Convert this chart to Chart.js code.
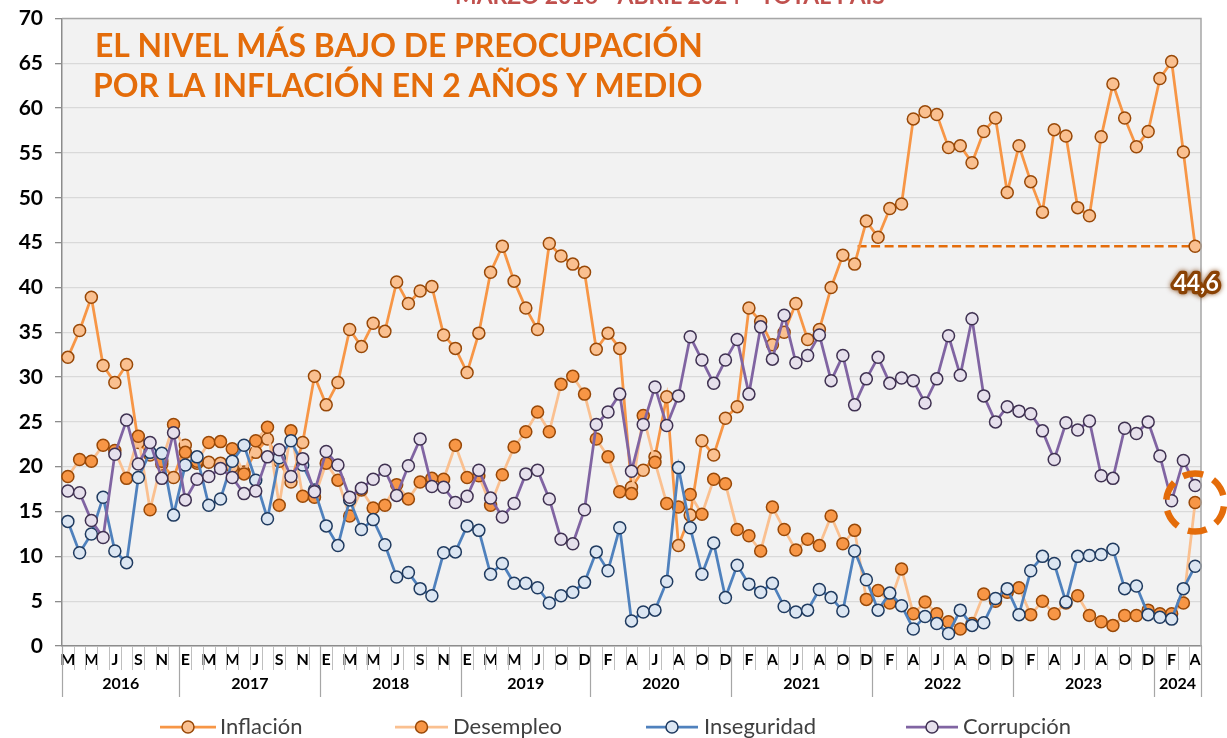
<!DOCTYPE html>
<html><head><meta charset="utf-8">
<script src="https://cdn.jsdelivr.net/npm/chart.js@4.4.1/dist/chart.umd.min.js"></script>
<style>html,body{margin:0;padding:0;background:#fff;overflow:hidden}#wrap{width:1227px;height:738px;position:relative}</style>
</head><body><div id="wrap"><canvas id="c" width="1227" height="738"></canvas></div>
<script>
// ---- DATA ----
const yearLabels = ['2016','2017','2018','2019','2020','2021','2022','2023','2024'];
const monthsByYear = [
  [3,4,5,6,7,8,9,10,11,12],
  [1,2,3,4,5,6,7,8,9,10,11,12],
  [1,2,3,4,5,6,7,8,9,10,11,12],
  [1,2,3,4,5,6,7,8,10,11,12],
  [1,2,3,4,5,6,7,8,9,10,11,12],
  [1,2,3,4,5,6,7,8,9,10,11,12],
  [1,2,3,4,5,6,7,8,9,10,11,12],
  [1,2,3,4,5,6,7,8,9,10,11,12],
  [1,2,3,4]
];
const monthInitials = ['E','F','M','A','M','J','J','A','S','O','N','D'];

const inflacion = [32.2,35.2,38.9,31.3,29.4,31.4,22.7,21.3,20.3,18.8,
  22.4,20.4,20.5,20.4,20.0,19.4,21.6,23.1,20.6,18.3,22.7,30.1,
  26.9,29.4,35.3,33.4,36.0,35.1,40.6,38.2,39.6,40.1,34.7,33.2,
  30.5,34.9,41.7,44.6,40.7,37.7,35.3,44.9,43.5,42.6,41.7,
  33.1,34.9,33.2,17.7,19.6,21.1,27.8,11.2,14.6,22.9,21.3,25.4,
  26.7,37.7,36.2,33.6,35.0,38.2,34.2,35.3,40.0,43.6,42.6,47.4,
  45.6,48.8,49.3,58.8,59.6,59.3,55.6,55.8,53.9,57.4,58.9,50.6,
  55.8,51.8,48.4,57.6,56.9,48.9,48.0,56.8,62.7,58.9,55.7,57.4,
  63.3,65.2,55.1,44.6];
const desempleo = [18.9,20.8,20.6,22.4,21.8,18.7,23.4,15.2,20.6,24.7,
  21.6,20.6,22.7,22.8,22.0,19.2,22.9,24.4,15.7,24.0,16.7,16.6,
  20.4,18.5,14.5,17.4,15.4,15.7,18.0,16.4,18.3,18.7,18.6,22.4,
  18.8,19.0,15.7,19.1,22.2,23.9,26.1,23.9,29.2,30.1,28.1,
  23.1,21.1,17.2,17.0,25.7,20.5,15.9,15.5,16.9,14.7,18.6,18.1,
  13.0,12.3,10.6,15.5,13.0,10.7,11.9,11.2,14.5,11.4,12.9,5.2,
  6.2,4.8,8.6,3.6,4.9,3.6,2.7,1.9,2.5,5.8,5.0,6.0,
  6.5,3.5,5.0,3.6,4.8,5.6,3.4,2.7,2.3,3.4,3.4,4.0,
  3.6,3.6,4.8,16.0];
const inseguridad = [13.9,10.4,12.5,16.6,10.6,9.3,18.8,21.6,21.5,14.6,
  20.2,21.1,15.7,16.4,20.6,22.4,18.5,14.2,21.0,22.9,20.2,17.4,
  13.4,11.2,16.3,13.0,14.1,11.3,7.7,8.2,6.4,5.6,10.4,10.5,
  13.4,12.9,8.0,9.2,7.0,7.0,6.5,4.8,5.6,6.0,7.1,
  10.5,8.4,13.2,2.8,3.8,4.0,7.2,19.9,13.2,8.0,11.5,5.4,
  9.0,6.9,6.0,7.0,4.4,3.8,4.0,6.3,5.4,3.9,10.6,7.4,
  4.0,5.9,4.5,1.9,3.3,2.5,1.4,4.0,2.3,2.6,5.3,6.4,
  3.5,8.4,10.0,9.2,4.9,10.0,10.1,10.2,10.8,6.4,6.7,3.5,
  3.2,3.0,6.4,8.9];
const corrupcion = [17.3,17.1,14.0,12.1,21.4,25.2,20.3,22.7,18.7,23.8,
  16.3,18.6,18.9,19.8,18.8,17.0,17.3,21.1,21.9,18.9,20.9,17.2,
  21.7,20.2,16.6,17.6,18.6,19.6,16.8,20.1,23.1,17.8,17.7,16.0,
  16.7,19.6,16.5,14.4,15.9,19.2,19.6,16.4,11.9,11.4,15.2,
  24.7,26.1,28.1,19.5,24.7,28.9,24.6,27.9,34.5,31.9,29.3,31.9,
  34.2,28.1,35.6,32.0,36.9,31.6,32.4,34.7,29.6,32.4,26.9,29.8,
  32.2,29.3,29.9,29.6,27.1,29.8,34.6,30.2,36.5,27.9,25.0,26.7,
  26.2,25.9,24.0,20.8,24.9,24.1,25.1,19.0,18.7,24.3,23.7,25.0,
  21.2,16.2,20.7,17.9];
const yTicks = {min:0, max:70, step:5};
const referenceValue = 44.6;      // línea punteada
const referenceFromIndex = 67;    // noviembre 2021
const headingLines = ['EL NIVEL MÁS BAJO DE PREOCUPACIÓN','POR LA INFLACIÓN EN 2 AÑOS Y MEDIO'];
const topTitle = 'MARZO 2016 - ABRIL 2024 - TOTAL PAÍS';

// categories & tick labels
const categories = [];
const tickLabels = [];
const yearStarts = [];
monthsByYear.forEach((ms, yi) => {
  yearStarts.push(categories.length);
  ms.forEach(m => {
    const idx = categories.length;
    categories.push(yearLabels[yi] + '-' + String(m).padStart(2,'0'));
    tickLabels.push(idx % 2 === 0 ? monthInitials[m-1] : '');
  });
});
yearStarts.push(categories.length);

// ---- STYLE ----
const FONT = 'Lato, "Open Sans", sans-serif';
const series = [
  {label:'Inflación',   data:inflacion,   line:'#F79646', fill:'#FAC090', edge:'#984807', order:4},
  {label:'Desempleo',   data:desempleo,   line:'#FAC090', fill:'#F79646', edge:'#984807', order:3},
  {label:'Inseguridad', data:inseguridad, line:'#4F81BD', fill:'#DCE6F2', edge:'#1F3A5F', order:2},
  {label:'Corrupción',  data:corrupcion,  line:'#8064A2', fill:'#E6E0EC', edge:'#3F3151', order:1}
];

const bgPlugin = {
  id:'bg',
  beforeDraw(chart){
    const {ctx, chartArea:a} = chart;
    ctx.save();
    ctx.fillStyle = '#fff';
    ctx.fillRect(0,0,chart.width,chart.height);
    ctx.fillStyle = '#F2F2F2';
    ctx.fillRect(a.left, a.top, a.right-a.left, a.bottom-a.top);
    ctx.restore();
  },
  beforeDatasetsDraw(chart){
    const {ctx} = chart;
    const xs = chart.scales.x, ys = chart.scales.y;
    ctx.save();
    ctx.strokeStyle = '#E46C0A';
    ctx.lineWidth = 2.6;
    ctx.setLineDash([9,4.5]);
    const y = ys.getPixelForValue(referenceValue);
    ctx.beginPath();
    ctx.moveTo(xs.getPixelForValue(referenceFromIndex)+3, y);
    ctx.lineTo(xs.getPixelForValue(categories.length-1), y);
    ctx.stroke();
    ctx.restore();
  }
};

const decoPlugin = {
  id:'deco',
  afterDraw(chart){
    const {ctx, chartArea:a} = chart;
    const n = categories.length;
    const step = (a.right - a.left) / n;
    ctx.save();
    ctx.strokeStyle = '#A6A6A6';
    ctx.lineWidth = 1.5;
    ctx.beginPath();
    ctx.moveTo(a.left, a.top); ctx.lineTo(a.right, a.top); ctx.lineTo(a.right, a.bottom);
    ctx.stroke();
    ctx.strokeStyle = '#BFBFBF';
    ctx.lineWidth = 1;
    for (let i=0;i<=n;i++){
      const x = Math.round(a.left + i*step) + 0.5;
      ctx.beginPath(); ctx.moveTo(x, a.bottom); ctx.lineTo(x, a.bottom+24); ctx.stroke();
    }
    ctx.strokeStyle = '#A6A6A6';
    ctx.lineWidth = 1.2;
    yearStarts.forEach(s => {
      const x = Math.round(a.left + s*step) + 0.5;
      ctx.beginPath(); ctx.moveTo(x, a.bottom); ctx.lineTo(x, a.bottom+51); ctx.stroke();
    });
    ctx.fillStyle = '#000';
    ctx.font = 'bold 16px ' + FONT;
    ctx.textAlign = 'center';
    ctx.textBaseline = 'middle';
    for (let k=0;k<yearLabels.length;k++){
      const x = a.left + (yearStarts[k]+yearStarts[k+1])/2*step;
      ctx.fillText(yearLabels[k], x, a.bottom + 38);
    }
    const p = chart.getDatasetMeta(1).data[n-1];
    ctx.strokeStyle = '#E46C0A';
    ctx.lineWidth = 6.5;
    ctx.setLineDash([19,11]);
    ctx.beginPath(); ctx.arc(p.x, p.y, 29, -Math.PI*0.62, Math.PI*1.38); ctx.stroke();
    ctx.setLineDash([]);
    const q = chart.getDatasetMeta(0).data[n-1];
    ctx.font = 'bold 23px ' + FONT;
    ctx.textAlign = 'center';
    ctx.textBaseline = 'middle';
    ctx.lineJoin = 'round';
    ctx.shadowColor = 'rgba(120,55,0,0.85)';
    ctx.shadowBlur = 5;
    ctx.strokeStyle = '#8A4204';
    ctx.lineWidth = 6.5;
    const lx = q.x + 1, ly = q.y + 37;
    ctx.strokeText('44,6', lx, ly);
    ctx.shadowBlur = 0;
    ctx.fillStyle = '#fff';
    ctx.fillText('44,6', lx, ly);
    ctx.fillStyle = '#E46C0A';
    ctx.textAlign = 'left';
    ctx.textBaseline = 'alphabetic';
    ctx.font = 'bold 34px ' + FONT;
    const w1 = ctx.measureText(headingLines[0]).width;
    const fs = 34 * 608 / w1;
    ctx.font = 'bold ' + fs.toFixed(2) + 'px ' + FONT;
    ctx.fillText(headingLines[0], 95, 57);
    ctx.fillText(headingLines[1], 93, 97);
    ctx.fillStyle = '#C0504D';
    ctx.textAlign = 'center';
    ctx.font = 'bold 22px ' + FONT;
    const wt = ctx.measureText(topTitle).width;
    ctx.font = 'bold ' + (22*430/wt).toFixed(2) + 'px ' + FONT;
    ctx.fillText(topTitle, 670, 4);
    const items = [
      {s:series[0], x1:160, x2:216, tx:220},
      {s:series[1], x1:395, x2:448, tx:453},
      {s:series[2], x1:646, x2:698, tx:704},
      {s:series[3], x1:906, x2:958, tx:963}
    ];
    const ly2 = 727;
    ctx.font = '22px ' + FONT;
    ctx.textAlign = 'left';
    ctx.textBaseline = 'middle';
    items.forEach(it => {
      ctx.strokeStyle = it.s.line; ctx.lineWidth = 2.75;
      ctx.beginPath(); ctx.moveTo(it.x1, ly2); ctx.lineTo(it.x2, ly2); ctx.stroke();
      ctx.beginPath(); ctx.arc((it.x1+it.x2)/2, ly2, 6, 0, Math.PI*2);
      ctx.fillStyle = it.s.fill; ctx.fill();
      ctx.strokeStyle = it.s.edge; ctx.lineWidth = 1.5; ctx.stroke();
      ctx.fillStyle = '#404040';
      ctx.fillText(it.s.label, it.tx, ly2);
    });
    ctx.restore();
  }
};

function build(){
  const ctx = document.getElementById('c').getContext('2d');
  new Chart(ctx, {
    type:'line',
    data:{
      labels:categories,
      datasets: series.map(s => ({
        label:s.label, data:s.data, order:s.order,
        borderColor:s.line, borderWidth:2.75, tension:0,
        pointRadius:6, pointBorderWidth:1.5,
        pointBackgroundColor:s.fill, pointBorderColor:s.edge,
        clip:false
      }))
    },
    options:{
      responsive:false, animation:false, devicePixelRatio:1,
      layout:{padding:{left:0,right:26,top:18.5,bottom:0}},
      plugins:{legend:{display:false}, tooltip:{enabled:false}},
      scales:{
        x:{
          type:'category', offset:true,
          grid:{display:false, drawTicks:false},
          border:{display:true, color:'#8C8C8C', width:1.5},
          ticks:{autoSkip:false, maxRotation:0, minRotation:0, padding:4,
                 font:{family:FONT, weight:'bold', size:16}, color:'#000',
                 callback:(v,i)=>tickLabels[i]},
          afterFit:(s)=>{ s.height = 92; s.paddingLeft = 0; s.paddingRight = 0; }
        },
        y:{
          min:yTicks.min, max:yTicks.max,
          ticks:{stepSize:yTicks.step, padding:12,
                 font:{family:FONT, weight:'bold', size:21}, color:'#000'},
          grid:{color:'#D9D9D9', lineWidth:1.3, tickColor:'#8C8C8C', tickLength:7},
          border:{display:true, color:'#8C8C8C', width:1.5},
          afterFit:(s)=>{ s.width = 62; s.paddingTop = 0; s.paddingBottom = 0; }
        }
      }
    },
    plugins:[bgPlugin, decoPlugin]
  });
}
const fl = document.fonts ? Promise.all([
  document.fonts.load('bold 16px Lato'), document.fonts.load('22px Lato')
]).catch(()=>{}) : Promise.resolve();
fl.then(build, build);
</script></body></html>
